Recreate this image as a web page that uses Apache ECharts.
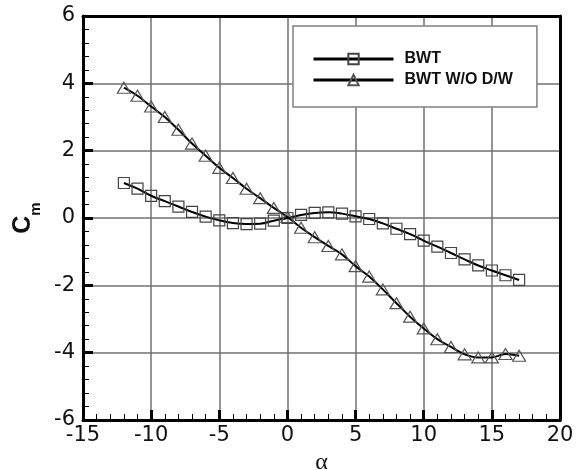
<!DOCTYPE html>
<html><head><meta charset="utf-8">
<script src="https://cdn.jsdelivr.net/npm/echarts@6/dist/echarts.min.js"></script>
<style>html,body{margin:0;padding:0;background:#fff}#c{width:580px;height:470px}</style>
</head><body><div id="c"></div>
<script>
const alpha = [-12,-11,-10,-9,-8,-7,-6,-5,-4,-3,-2,-1,0,1,2,3,4,5,6,7,8,9,10,11,12,13,14,15,16,17];
const cmBWT = [1.04,0.87,0.66,0.50,0.34,0.18,0.04,-0.07,-0.15,-0.18,-0.17,-0.08,0.0,0.09,0.15,0.17,0.13,0.05,-0.03,-0.16,-0.32,-0.48,-0.67,-0.85,-1.04,-1.23,-1.41,-1.56,-1.70,-1.84];
const cmNoDW = [3.87,3.63,3.31,3.00,2.62,2.21,1.85,1.49,1.19,0.87,0.59,0.30,0.03,-0.29,-0.57,-0.83,-1.08,-1.43,-1.74,-2.12,-2.53,-2.93,-3.28,-3.60,-3.83,-4.05,-4.14,-4.14,-4.04,-4.09];
const seriesNames = ['BWT','BWT W/O D/W'];
const xTicks = {min:-15, max:20, interval:5};
const yTicks = {min:-6, max:6, interval:2};

const chart = echarts.init(document.getElementById('c'), null, {renderer:'canvas'});
const zip = (xs, ys) => xs.map((x,i)=>[x, ys[i]]);
const gridLine = {show:true, lineStyle:{color:'#707070', width:1.5}};
const frameAxis = {axisLine:{show:true, onZero:false, lineStyle:{color:'#000', width:3}}, axisTick:{show:false}, axisLabel:{show:false}, splitLine:{show:false}};
const markerStyle = (c)=>({color:'rgba(0,0,0,0)', borderColor:c, borderWidth:1.2});
chart.setOption({
  animation:false,
  grid:{left:83, right:20, top:16, bottom:50, outerBoundsMode:'none', containLabel:false},
  legend:{
    left:293, top:26, orient:'vertical',
    itemWidth:80, itemHeight:13, itemGap:5,
    padding:[25,24,19,19],
    backgroundColor:'#fff', borderColor:'#808080', borderWidth:1.5, borderRadius:0,
    textStyle:{fontFamily:'Liberation Sans', fontWeight:'bold', fontSize:16, color:'#111', padding:[0,0,0,6]},
    lineStyle:{width:3, color:'#000'},
    data:seriesNames
  },
  xAxis:[{
    type:'value', min:xTicks.min, max:xTicks.max, interval:xTicks.interval,
    name:'α', nameLocation:'middle', nameGap:30,
    nameTextStyle:{fontFamily:'Liberation Serif', fontSize:24, color:'#111'},
    axisLine:{show:true, onZero:false, lineStyle:{color:'#000', width:3}},
    axisTick:{show:true, inside:true, length:10, lineStyle:{color:'#000', width:3}},
    minorTick:{show:true, splitNumber:5, length:6, lineStyle:{color:'#000', width:1}},
    axisLabel:{fontFamily:'DejaVu Sans', fontSize:21, color:'#111', margin:5},
    splitLine:gridLine
  },{
    type:'value', position:'top', min:xTicks.min, max:xTicks.max, ...frameAxis
  }],
  yAxis:[{
    type:'value', min:yTicks.min, max:yTicks.max, interval:yTicks.interval,
    name:'{c|C}{m|m}', nameLocation:'middle', nameGap:45, nameRotate:90,
    nameTextStyle:{rich:{
      c:{fontFamily:'Liberation Sans', fontWeight:'bold', fontSize:25, color:'#111'},
      m:{fontFamily:'Liberation Sans', fontWeight:'bold', fontSize:15, color:'#111', verticalAlign:'bottom', padding:[0,0,-8,0]}
    }},
    axisLine:{show:true, onZero:false, lineStyle:{color:'#000', width:3}},
    axisTick:{show:true, inside:true, length:10, lineStyle:{color:'#000', width:3}},
    minorTick:{show:true, splitNumber:5, length:6, lineStyle:{color:'#000', width:1}},
    axisLabel:{fontFamily:'DejaVu Sans', fontSize:21, color:'#111', margin:8},
    splitLine:gridLine
  },{
    type:'value', position:'right', min:yTicks.min, max:yTicks.max, ...frameAxis
  }],
  series:[{
    name:seriesNames[0], type:'line', data:zip(alpha, cmBWT), smooth:0.4,
    symbol:'rect', symbolSize:11, showAllSymbol:true,
    lineStyle:{color:'#000', width:2}, itemStyle:markerStyle('#444')
  },{
    name:seriesNames[1], type:'line', data:zip(alpha, cmNoDW), smooth:0.4,
    symbol:'triangle', symbolSize:[13,11], showAllSymbol:true,
    lineStyle:{color:'#000', width:2}, itemStyle:markerStyle('#555')
  }]
});
</script></body></html>
